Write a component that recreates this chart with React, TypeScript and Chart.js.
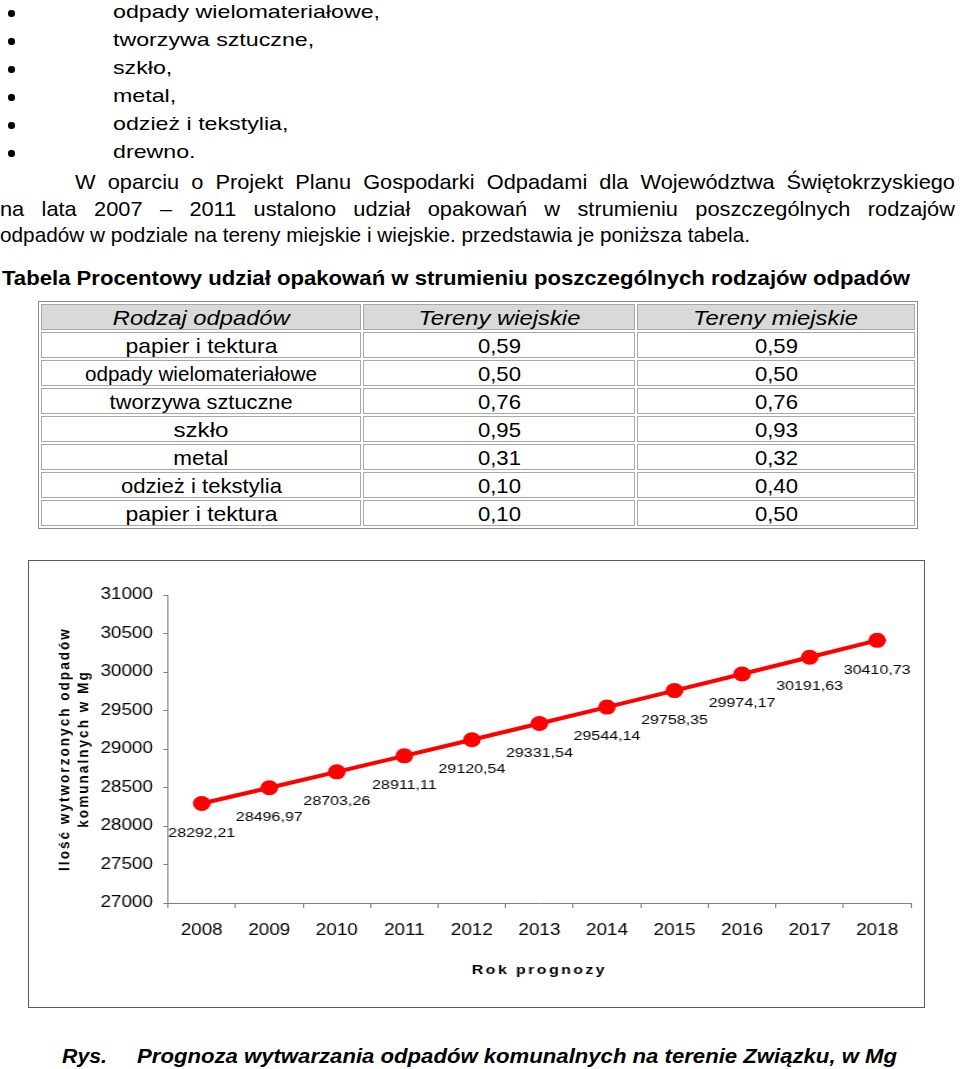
import React, { useEffect, useRef } from 'react';
import { Chart, registerables } from 'chart.js';

Chart.register(...registerables);

// ---------- data ----------
const bulletItems = [
  'odpady wielomateriałowe,',
  'tworzywa sztuczne,',
  'szkło,',
  'metal,',
  'odzież i tekstylia,',
  'drewno.',
];
const paragraphLines = [
  'W oparciu o Projekt Planu Gospodarki Odpadami dla Województwa Świętokrzyskiego',
  'na lata 2007 – 2011 ustalono udział opakowań w strumieniu poszczególnych rodzajów',
  'odpadów w podziale na tereny miejskie i wiejskie. przedstawia je poniższa tabela.',
];
const tableTitle = 'Tabela Procentowy udział opakowań w strumieniu poszczególnych rodzajów odpadów';
const tableHeaders = ['Rodzaj odpadów', 'Tereny wiejskie', 'Tereny miejskie'];
const wasteTypes = [
  'papier i tektura',
  'odpady wielomateriałowe',
  'tworzywa sztuczne',
  'szkło',
  'metal',
  'odzież i tekstylia',
  'papier i tektura',
];
const ruralShare = ['0,59', '0,50', '0,76', '0,95', '0,31', '0,10', '0,10'];
const urbanShare = ['0,59', '0,50', '0,76', '0,93', '0,32', '0,40', '0,50'];

const years = ['2008', '2009', '2010', '2011', '2012', '2013', '2014', '2015', '2016', '2017', '2018'];
const wasteMg = [
  28292.21, 28496.97, 28703.26, 28911.11, 29120.54, 29331.54, 29544.14, 29758.35, 29974.17, 30191.63,
  30410.73,
];
const yTickValues = [27000, 27500, 28000, 28500, 29000, 29500, 30000, 30500, 31000];
const yAxisTitle = ['Ilość wytworzonych odpadów', 'komunalnych w Mg'];
const xAxisTitle = 'Rok prognozy';
const figureLabel = 'Rys.';
const figureCaption = 'Prognoza wytwarzania odpadów komunalnych na terenie Związku, w Mg';

// ---------- helpers ----------
const SANS = "'Liberation Sans', Arial, sans-serif";
const NARROW = "'Liberation Sans Narrow', 'Arial Narrow', 'Liberation Sans', Arial, sans-serif";

let measureCtx: CanvasRenderingContext2D | null = null;
function measure(text: string, font: string): number {
  if (!measureCtx) measureCtx = document.createElement('canvas').getContext('2d');
  measureCtx!.font = font;
  return measureCtx!.measureText(text).width;
}
function fontStr(size: number, family: string, weight = 'normal', italic = false) {
  return `${italic ? 'italic ' : ''}${weight} ${size}px ${family}`;
}

type LineProps = {
  text: string;
  x: number;
  baseline: number;
  width: number;
  size: number;
  family: string;
  weight?: string;
  italic?: boolean;
  scale?: number;
  justify?: boolean;
};

function Line(p: LineProps) {
  const weight = p.weight || 'normal';
  const nat = measure(p.text, fontStr(p.size, p.family, weight, !!p.italic));
  let s = p.width > 0 ? p.width / nat : p.scale || 1;
  let boxW = nat + 1;
  let justify = false;
  if (p.justify && p.scale && p.scale < s) {
    s = p.scale;
    boxW = p.width / s;
    justify = true;
  } else if (!p.justify && p.scale) {
    s = p.scale;
  }
  return (
    <div
      style={{
        position: 'absolute',
        left: p.x,
        top: p.baseline - 0.8465 * p.size,
        width: boxW,
        height: p.size,
        lineHeight: `${p.size}px`,
        fontSize: p.size,
        fontFamily: p.family,
        fontWeight: weight as any,
        fontStyle: p.italic ? 'italic' : 'normal',
        whiteSpace: justify ? 'normal' : 'nowrap',
        textAlign: justify ? 'justify' : 'left',
        textAlignLast: justify ? 'justify' : 'auto',
        transform: `scaleX(${s})`,
        transformOrigin: '0 0',
        color: '#000',
      }}
    >
      {p.text}
    </div>
  );
}

// ---------- chart ----------
const CANVAS_W = 760;
const CANVAS_H = 448;
const CHART_SX = 897 / CANVAS_W;

function WasteChart() {
  const ref = useRef<HTMLCanvasElement | null>(null);
  useEffect(() => {
    const canvas = ref.current;
    if (!canvas) return;
    const fmt = (v: number) => v.toFixed(2).replace('.', ',');
    const spaceTitle = (scale: any) => {
      if (scale.__spaced) return;
      const orig = scale.drawTitle;
      scale.drawTitle = function (...args: any[]) {
        const ctx = this.ctx;
        ctx.save();
        ctx.letterSpacing = '2px';
        orig.apply(this, args);
        ctx.restore();
      };
      scale.__spaced = true;
    };
    const labelPlugin = {
      id: 'valueLabels',
      afterDatasetsDraw(chart: any) {
        const ctx = chart.ctx;
        const meta = chart.getDatasetMeta(0);
        ctx.save();
        ctx.font = fontStr(13.6, SANS);
        ctx.fillStyle = '#000';
        ctx.textAlign = 'center';
        ctx.textBaseline = 'middle';
        meta.data.forEach((pt: any, i: number) => {
          ctx.fillText(fmt(wasteMg[i]), pt.x, pt.y + 29.5);
        });
        ctx.restore();
      },
    };
    const chart = new Chart(canvas, {
      type: 'line',
      data: {
        labels: years,
        datasets: [
          {
            data: wasteMg,
            borderColor: '#ff0000',
            backgroundColor: '#ff0000',
            borderWidth: 4,
            pointRadius: 7.5,
            pointHoverRadius: 7.5,
            pointBorderWidth: 0,
            pointBackgroundColor: '#ff0000',
            tension: 0,
          },
        ],
      },
      options: {
        responsive: false,
        animation: false,
        devicePixelRatio: 1,
        layout: { padding: { top: 35, right: 11.9, left: 0, bottom: 0 } },
        plugins: { legend: { display: false }, tooltip: { enabled: false } },
        scales: {
          x: {
            type: 'category',
            offset: true,
            grid: {
              offset: true,
              drawOnChartArea: false,
              drawTicks: true,
              tickLength: 5,
              color: '#808080',
              lineWidth: 1,
            },
            border: { display: true, color: '#808080', width: 1 },
            ticks: {
              color: '#000',
              font: { family: SANS, size: 16 },
              padding: 13,
              autoSkip: false,
              maxRotation: 0,
            },
            title: {
              display: true,
              text: xAxisTitle,
              color: '#000',
              font: { family: SANS, size: 13.6, weight: 'bold', lineHeight: 1.2 },
              padding: { top: 0, bottom: 30 },
            },
            afterFit(s: any) {
              s.height = CANVAS_H - 343;
              spaceTitle(s);
            },
          },
          y: {
            type: 'linear',
            min: 27000,
            max: 31000,
            afterBuildTicks(s: any) {
              s.ticks = yTickValues.map((v) => ({ value: v }));
            },
            grid: {
              drawOnChartArea: false,
              drawTicks: true,
              tickLength: 4,
              color: '#808080',
              lineWidth: 1,
            },
            border: { display: true, color: '#808080', width: 1 },
            ticks: {
              color: '#000',
              font: { family: SANS, size: 16 },
              padding: 8.7,
              callback: (v: any) => String(v),
            },
            title: {
              display: true,
              text: yAxisTitle,
              color: '#000',
              font: { family: SANS, size: 13.6, weight: 'bold', lineHeight: 1.15 },
              padding: { top: 23.4, bottom: 0 },
            },
            afterFit(s: any) {
              s.width = 118.6;
              spaceTitle(s);
            },
          },
        },
      } as any,
      plugins: [labelPlugin],
    });
    return () => chart.destroy();
  }, []);

  return (
    <>
      <canvas
        ref={ref}
        width={CANVAS_W}
        height={CANVAS_H}
        style={{
          position: 'absolute',
          left: 28,
          top: 560,
          width: CANVAS_W,
          height: CANVAS_H,
          display: 'block',
          transform: `scaleX(${CHART_SX})`,
          transformOrigin: '0 0',
          background: '#fff',
        }}
      />
      <div
        style={{
          position: 'absolute',
          left: 28,
          top: 560,
          width: 897,
          height: 448,
          boxSizing: 'border-box',
          border: '1px solid #5a5a5a',
          pointerEvents: 'none',
        }}
      />
    </>
  );
}

// ---------- table ----------
const colX = [41, 363, 637];
const colW = [320, 272, 278];
const headWidths = [177, 162, 165];
const typeWidths = [152, 232, 183, 55, 55, 161, 152];
const numberWidth = 43;

function ShareTable() {
  const size = 21;
  const rows: string[][] = [tableHeaders, ...wasteTypes.map((w, i) => [w, ruralShare[i], urbanShare[i]])];
  const cells: React.ReactNode[] = [];
  rows.forEach((row, r) => {
    row.forEach((txt, c) => {
      const head = r === 0;
      const target = head ? headWidths[c] : c === 0 ? typeWidths[r - 1] : numberWidth;
      const sc = target / measure(txt, fontStr(size, NARROW, 'normal', head));
      cells.push(
        <div
          key={`${r}-${c}`}
          style={{
            position: 'absolute',
            left: colX[c],
            top: 304 + r * 28,
            width: colW[c],
            height: 26,
            boxSizing: 'border-box',
            border: '1px solid #a8a8a8',
            background: head ? '#d9d9d9' : '#fff',
            display: 'flex',
            alignItems: 'center',
            justifyContent: 'center',
            overflow: 'visible',
          }}
        >
          <span
            style={{
              display: 'inline-block',
              whiteSpace: 'nowrap',
              fontFamily: NARROW,
              fontSize: size,
              lineHeight: `${size}px`,
              fontStyle: head ? 'italic' : 'normal',
              transform: `scaleX(${sc})`,
              transformOrigin: '50% 50%',
              color: '#000',
            }}
          >
            {txt}
          </span>
        </div>
      );
    });
  });
  return (
    <>
      <div
        style={{
          position: 'absolute',
          left: 38,
          top: 301,
          width: 880,
          height: 304 + 7 * 28 + 26 + 3 - 301,
          boxSizing: 'border-box',
          border: '1px solid #8c8c8c',
          background: '#fff',
        }}
      />
      {cells}
    </>
  );
}

// ---------- page ----------
export default function App() {
  const bulletSize = 19;
  const bulletScale = 267 / measure(bulletItems[0], fontStr(bulletSize, SANS));
  const paraSize = 21;
  const paraScale = (750 / measure(paragraphLines[2], fontStr(paraSize, NARROW))) * 1.05;
  const bulletBaselines = bulletItems.map((_, i) => 18.3 + 28 * i);
  const paraX = [75, 0, 0];
  const paraW = [880, 955, 750];
  const paraBase = [189, 215.5, 242];

  return (
    <div
      style={{
        position: 'absolute',
        left: 0,
        top: 0,
        width: 960,
        height: 1069,
        overflow: 'hidden',
        background: '#fff',
      }}
    >
      {bulletItems.map((t, i) => (
        <React.Fragment key={i}>
          <div
            style={{
              position: 'absolute',
              left: 8,
              top: bulletBaselines[i] - 5 - 3.3,
              width: 6.6,
              height: 6.6,
              borderRadius: '50%',
              background: '#000',
            }}
          />
          <Line text={t} x={113} baseline={bulletBaselines[i]} width={0} size={bulletSize} family={SANS} scale={bulletScale} />
        </React.Fragment>
      ))}
      {paragraphLines.map((t, i) => (
        <Line
          key={`p${i}`}
          text={t}
          x={paraX[i]}
          baseline={paraBase[i]}
          width={paraW[i]}
          size={paraSize}
          family={NARROW}
          scale={i < 2 ? paraScale : undefined}
          justify={i < 2}
        />
      ))}
      <Line text={tableTitle} x={2} baseline={285} width={908} size={paraSize} family={NARROW} weight="bold" />
      <ShareTable />
      <WasteChart />
      <Line text={figureLabel} x={62} baseline={1063} width={45} size={paraSize} family={NARROW} weight="bold" italic />
      <Line text={figureCaption} x={137} baseline={1063} width={760} size={paraSize} family={NARROW} weight="bold" italic />
    </div>
  );
}
